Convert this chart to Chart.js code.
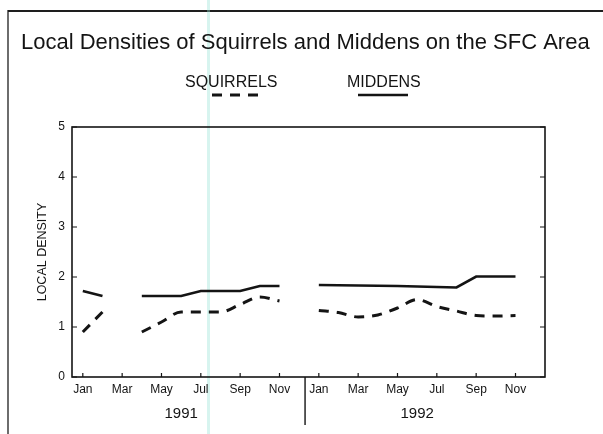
<!DOCTYPE html>
<html>
<head>
<meta charset="utf-8">
<title>Local Densities of Squirrels and Middens</title>
<script src="https://cdn.jsdelivr.net/npm/chart.js@4/dist/chart.umd.min.js"></script>
<style>
  html, body { margin: 0; padding: 0; background: #ffffff; }
  #wrap { width: 603px; height: 434px; }
</style>
</head>
<body>
<div id="wrap"><canvas id="chart" width="603" height="434"></canvas></div>
<script>
// Month index 0 = Jan 1991 ... 23 = Dec 1992
const months = [0,1,2,3,4,5,6,7,8,9,10,11,12,13,14,15,16,17,18,19,20,21,22,23];
const monthNames = ['Jan','Feb','Mar','Apr','May','Jun','Jul','Aug','Sep','Oct','Nov','Dec'];

// Local density, one value per month (null = not sampled)
const squirrels = [0.9, 1.3, null, 0.9, 1.1, 1.3, 1.3, 1.3, 1.45, 1.6, 1.52, null,
                   1.33, 1.29, 1.2, 1.24, 1.38, 1.55, 1.41, 1.32, 1.23, 1.22, 1.23, null];
const middens   = [1.72, 1.62, null, 1.62, 1.62, 1.62, 1.72, 1.72, 1.72, 1.82, 1.82, null,
                   1.84, 1.835, 1.83, 1.825, 1.82, 1.81, 1.8, 1.79, 2.01, 2.01, 2.01, null];

// Axis ticks
const xTickMonths = [0, 2, 4, 6, 8, 10, 12, 14, 16, 18, 20, 22];
const yTicks = [0, 1, 2, 3, 4, 5];

// Year captions and the boundary between them
const years = ['1991', '1992'];
const yearCenters = [5, 17];
const yearBoundary = 11.3;

const titleText = 'Local Densities of Squirrels and Middens on the SFC Area';
const ink = '#141414';

function toPoints(values) {
  return months.map((m, i) => ({ x: m, y: values[i] }));
}

const decorations = {
  id: 'decorations',
  beforeDraw(chart) {
    const ctx = chart.ctx;
    ctx.save();
    ctx.fillStyle = '#ffffff';
    ctx.fillRect(0, 0, chart.width, chart.height);
    // outer page border (top and left)
    ctx.strokeStyle = '#1e1e1e';
    ctx.lineWidth = 2;
    ctx.beginPath();
    ctx.moveTo(8, 11);
    ctx.lineTo(chart.width, 11);
    ctx.stroke();
    ctx.lineWidth = 1.3;
    ctx.beginPath();
    ctx.moveTo(8, 10);
    ctx.lineTo(8, chart.height);
    ctx.stroke();
    // faint teal stripe
    ctx.fillStyle = 'rgba(150, 226, 214, 0.38)';
    ctx.fillRect(207, 0, 3, chart.height);
    ctx.restore();
  },
  afterDraw(chart) {
    const ctx = chart.ctx;
    const area = chart.chartArea;
    const xs = chart.scales.x;
    const ys = chart.scales.y;
    ctx.save();

    // plot frame
    ctx.strokeStyle = ink;
    ctx.lineWidth = 1.6;
    ctx.strokeRect(area.left, area.top, area.right - area.left, area.bottom - area.top);

    // inward tick marks
    ctx.lineWidth = 1.2;
    ctx.beginPath();
    yTicks.forEach(v => {
      const py = ys.getPixelForValue(v);
      ctx.moveTo(area.left, py); ctx.lineTo(area.left + 5, py);
      ctx.moveTo(area.right, py); ctx.lineTo(area.right - 5, py);
    });
    xTickMonths.forEach(m => {
      const px = xs.getPixelForValue(m);
      ctx.moveTo(px, area.bottom); ctx.lineTo(px, area.bottom - 4);
    });
    ctx.stroke();

    // year divider below the axis
    const bx = xs.getPixelForValue(yearBoundary);
    ctx.lineWidth = 1.4;
    ctx.beginPath();
    ctx.moveTo(bx, area.bottom);
    ctx.lineTo(bx, area.bottom + 48);
    ctx.stroke();

    // year captions
    ctx.fillStyle = ink;
    ctx.font = '15px "Liberation Sans", Arial, sans-serif';
    ctx.textAlign = 'center';
    ctx.textBaseline = 'middle';
    years.forEach((y, i) => {
      ctx.fillText(y, xs.getPixelForValue(yearCenters[i]), 414);
    });

    // title
    ctx.font = '22px "Liberation Sans", Arial, sans-serif';
    ctx.textAlign = 'left';
    ctx.textBaseline = 'alphabetic';
    ctx.fillText(titleText, 21, 49);

    // legend: name above a line sample in the series style
    ctx.font = '16px "Liberation Sans", Arial, sans-serif';
    const sets = chart.data.datasets;
    const legend = [
      { ds: sets[0], textX: 185, x0: 212, x1: 259 },
      { ds: sets[1], textX: 347, x0: 358, x1: 408 }
    ];
    legend.forEach(item => {
      ctx.fillStyle = ink;
      ctx.fillText(item.ds.label, item.textX, 87);
      ctx.strokeStyle = item.ds.borderColor;
      ctx.lineWidth = item.ds.borderWidth;
      ctx.setLineDash(item.ds.borderDash || []);
      ctx.beginPath();
      ctx.moveTo(item.x0, 95);
      ctx.lineTo(item.x1, 95);
      ctx.stroke();
      ctx.setLineDash([]);
    });

    ctx.restore();
  }
};

new Chart(document.getElementById('chart'), {
  type: 'line',
  data: {
    datasets: [
      {
        label: 'SQUIRRELS',
        data: toPoints(squirrels),
        borderColor: ink,
        borderWidth: 3,
        borderDash: [10, 8],
        pointRadius: 0,
        spanGaps: false,
        cubicInterpolationMode: 'monotone',
        fill: false
      },
      {
        label: 'MIDDENS',
        data: toPoints(middens),
        borderColor: ink,
        borderWidth: 2.7,
        pointRadius: 0,
        spanGaps: false,
        tension: 0,
        fill: false
      }
    ]
  },
  options: {
    responsive: false,
    animation: false,
    devicePixelRatio: 1,
    layout: { padding: { top: 127, right: 58, left: 0, bottom: 0 } },
    plugins: {
      legend: { display: false },
      title: { display: false },
      tooltip: { enabled: false }
    },
    scales: {
      x: {
        type: 'linear',
        min: -0.55,
        max: 23.5,
        grid: { display: false, drawTicks: false },
        border: { display: false },
        afterBuildTicks(scale) {
          scale.ticks = xTickMonths.map(v => ({ value: v }));
        },
        afterFit(scale) { scale.height = 57; },
        ticks: {
          autoSkip: false,
          maxRotation: 0,
          padding: 5,
          color: ink,
          font: { family: '"Liberation Sans", Arial, sans-serif', size: 12 },
          callback: (v) => monthNames[((v % 12) + 12) % 12]
        }
      },
      y: {
        min: 0,
        max: 5,
        grid: { display: false, drawTicks: false },
        border: { display: false },
        afterBuildTicks(scale) {
          scale.ticks = yTicks.map(v => ({ value: v }));
        },
        afterFit(scale) { scale.width = 72; },
        ticks: {
          padding: 7,
          color: ink,
          font: { family: '"Liberation Sans", Arial, sans-serif', size: 12 }
        },
        title: {
          display: true,
          text: 'LOCAL DENSITY',
          color: ink,
          font: { family: '"Liberation Sans", Arial, sans-serif', size: 12.5 },
          padding: { top: 35, bottom: 0 }
        }
      }
    }
  },
  plugins: [decorations]
});
</script>
</body>
</html>
